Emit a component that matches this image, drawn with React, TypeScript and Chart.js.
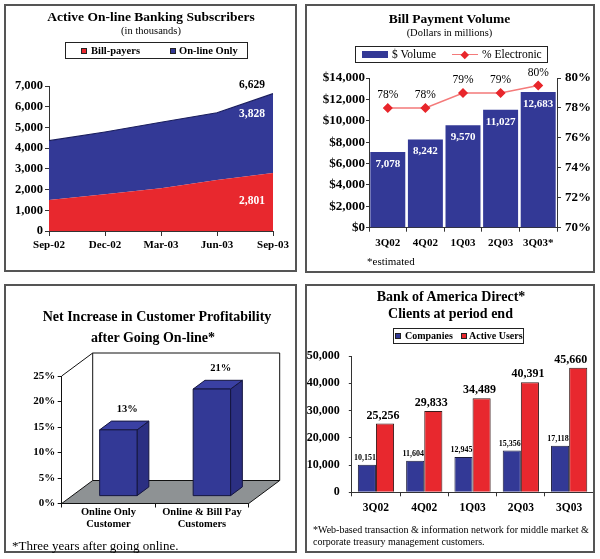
import React, { useEffect, useRef } from 'react';
import { Chart, registerables } from 'chart.js';

Chart.register(...registerables);

const SERIF = '"Liberation Serif", "Times New Roman", serif';
const RED = '#E8282E';
const BLUE = '#333996';
const AXIS = '#333';

// ---- Chart 1: Active On-line Banking Subscribers (thousands)
const subsPeriods = ['Sep-02', 'Dec-02', 'Mar-03', 'Jun-03', 'Sep-03'];
const billPayers = [1500, 1770, 2060, 2460, 2801];
const onlineOnly = [2860, 3010, 3190, 3250, 3828];

// ---- Chart 2: Bill Payment Volume
const billQuarters = ['3Q02', '4Q02', '1Q03', '2Q03', '3Q03*'];
const billVolume = [7078, 8242, 9570, 11027, 12683];
const pctElectronic = [78, 78, 79, 79, 79.5];
const pctLabels = ['78%', '78%', '79%', '79%', '80%'];

// ---- Chart 3: Net Increase in Customer Profitability
const profitCategories = [['Online Only', 'Customer'], ['Online & Bill Pay', 'Customers']];
const profitIncrease = [13, 21];

// ---- Chart 4: Bank of America Direct clients
const directQuarters = ['3Q02', '4Q02', '1Q03', '2Q03', '3Q03'];
const companies = [10151, 11604, 12945, 15356, 17118];
const activeUsers = [25256, 29833, 34489, 40391, 45660];

const fmt = (v: number) => Number(v).toLocaleString('en-US');
const font = (size: number, bold = true) => ({ family: SERIF, size, weight: bold ? 'bold' : 'normal' } as any);

function ChartCanvas({ left, top, width, height, make }: { left: number; top: number; width: number; height: number; make: () => any }) {
  const ref = useRef<HTMLCanvasElement>(null);
  useEffect(() => {
    const chart = new Chart(ref.current as HTMLCanvasElement, make());
    return () => chart.destroy();
  }, []);
  return <canvas ref={ref} width={width} height={height} style={{ position: 'absolute', left, top, width, height }} />;
}

function T({ x, y, size, bold, align = 'center', color = '#000', children, ls }: any) {
  return (
    <div
      style={{
        position: 'absolute', left: x, top: y,
        transform: align === 'center' ? 'translate(-50%,-50%)' : 'translate(0,-50%)',
        fontFamily: SERIF, fontSize: size, fontWeight: bold ? 700 : 400, color,
        whiteSpace: 'nowrap', lineHeight: 1, letterSpacing: ls,
      }}
    >
      {children}
    </div>
  );
}

function Box({ l, t, w, h, bg, b = '1px solid #222' }: any) {
  return <div style={{ position: 'absolute', left: l, top: t, width: w, height: h, background: bg, border: b, boxSizing: 'border-box' }} />;
}

const fixW = (w: number) => (s: any) => { s.width = w; };
const fixH = (h: number) => (s: any) => { s.height = h; };

// ---------- configs
function makeChart1() {
  const labels = {
    id: 'c1labels',
    afterDatasetsDraw(chart: any) {
      const { ctx, scales: { x, y } } = chart;
      const i = subsPeriods.length - 1;
      const total = billPayers[i] + onlineOnly[i];
      const px = x.getPixelForValue(i) - 21;
      ctx.save();
      ctx.font = `bold 11.5px ${SERIF}`;
      ctx.textAlign = 'center';
      ctx.textBaseline = 'middle';
      ctx.fillStyle = '#000';
      ctx.fillText(fmt(total), px, y.getPixelForValue(total) - 9);
      ctx.fillStyle = '#fff';
      ctx.fillText(fmt(onlineOnly[i]), px, y.getPixelForValue(total) + 20);
      ctx.fillText(fmt(billPayers[i]), px, y.getPixelForValue(billPayers[i]) + 28);
      ctx.restore();
    },
  };
  return {
    type: 'line',
    data: {
      labels: subsPeriods,
      datasets: [
        { label: 'Bill-payers', data: billPayers, backgroundColor: RED, borderColor: RED, borderWidth: 0, fill: 'origin', pointRadius: 0, tension: 0 },
        { label: 'On-line Only', data: onlineOnly, backgroundColor: BLUE, borderColor: '#1b1f5e', borderWidth: 1.2, fill: '-1', pointRadius: 0, tension: 0 },
      ],
    },
    options: {
      responsive: false, animation: false,
      layout: { padding: { left: 0, right: 27, top: 86, bottom: 29 } },
      plugins: { legend: { display: false }, tooltip: { enabled: false }, title: { display: false } },
      scales: {
        x: {
          offset: false,
          grid: { display: true, drawOnChartArea: false, tickLength: 5, color: AXIS },
          border: { color: AXIS, width: 1 },
          ticks: { font: font(11), color: '#000', padding: 3, maxRotation: 0, autoSkip: false },
          afterFit: fixH(20),
        },
        y: {
          stacked: true, min: 0, max: 7000,
          grid: { drawOnChartArea: false, tickLength: 4, color: AXIS },
          border: { color: AXIS, width: 1 },
          ticks: { stepSize: 1000, font: font(12.5), color: '#000', padding: 2, callback: (v: any) => fmt(v) },
          afterFit: fixW(49),
        },
      },
    },
    plugins: [labels],
  };
}

function makeChart2() {
  const labels = {
    id: 'c2labels',
    afterDatasetsDraw(chart: any) {
      const { ctx } = chart;
      ctx.save();
      ctx.textAlign = 'center';
      ctx.textBaseline = 'middle';
      const bars = chart.getDatasetMeta(1).data;
      ctx.font = `bold 11px ${SERIF}`;
      ctx.fillStyle = '#fff';
      bars.forEach((b: any, i: number) => ctx.fillText(fmt(billVolume[i]), b.x, b.y + 12));
      const pts = chart.getDatasetMeta(0).data;
      ctx.font = `11.5px ${SERIF}`;
      ctx.fillStyle = '#000';
      pts.forEach((p: any, i: number) => ctx.fillText(pctLabels[i], p.x, p.y - 13));
      ctx.restore();
    },
  };
  return {
    type: 'bar',
    data: {
      labels: billQuarters,
      datasets: [
        {
          type: 'line', label: '% Electronic', data: pctElectronic, yAxisID: 'y1', order: 0,
          borderColor: '#F47A7A', borderWidth: 1.5, tension: 0,
          pointStyle: 'rectRot', pointRadius: 4, pointBackgroundColor: '#E8262B', pointBorderColor: '#E8262B',
        },
        {
          type: 'bar', label: '$ Volume', data: billVolume, yAxisID: 'y', order: 1,
          backgroundColor: BLUE, borderWidth: 0, barPercentage: 0.93, categoryPercentage: 1,
        },
      ],
    },
    options: {
      responsive: false, animation: false,
      layout: { padding: { left: 0, right: 0, top: 78, bottom: 32.3 } },
      plugins: { legend: { display: false }, tooltip: { enabled: false } },
      scales: {
        x: {
          grid: { display: true, drawOnChartArea: false, tickLength: 4, color: AXIS },
          border: { color: AXIS, width: 1 },
          ticks: { font: font(11), color: '#000', padding: 5, maxRotation: 0, autoSkip: false },
          afterFit: fixH(20),
        },
        y: {
          position: 'left', min: 0, max: 14000,
          grid: { drawOnChartArea: false, tickLength: 3, color: AXIS },
          border: { color: AXIS, width: 1 },
          ticks: { stepSize: 2000, font: font(13), color: '#000', padding: 1, callback: (v: any) => '$' + fmt(v) },
          afterFit: fixW(69),
        },
        y1: {
          position: 'right', min: 70, max: 80,
          grid: { drawOnChartArea: false, tickLength: 4, color: AXIS },
          border: { color: AXIS, width: 1 },
          ticks: { stepSize: 2, font: font(13), color: '#000', padding: 4, callback: (v: any) => v + '%' },
          afterFit: fixW(43),
        },
      },
    },
    plugins: [labels],
  };
}

function makeChart3() {
  const D = { x: 31, y: -23 };
  const f0 = 0.32;
  const fb = 0.38;
  const box3d = {
    id: 'box3d',
    beforeDatasetsDraw(chart: any) {
      const { ctx, chartArea: { left, right, top, bottom } } = chart;
      ctx.save();
      ctx.lineWidth = 1;
      ctx.strokeStyle = '#111';
      ctx.beginPath();
      ctx.moveTo(left, bottom);
      ctx.lineTo(right, bottom);
      ctx.lineTo(right + D.x, bottom + D.y);
      ctx.lineTo(left + D.x, bottom + D.y);
      ctx.closePath();
      ctx.fillStyle = '#8E9294';
      ctx.fill();
      ctx.stroke();
      ctx.beginPath();
      ctx.moveTo(left, top);
      ctx.lineTo(left + D.x, top + D.y);
      ctx.lineTo(right + D.x, top + D.y);
      ctx.moveTo(left + D.x, top + D.y);
      ctx.lineTo(left + D.x, bottom + D.y);
      ctx.moveTo(right + D.x, top + D.y);
      ctx.lineTo(right + D.x, bottom + D.y);
      ctx.stroke();
      ctx.restore();
    },
    afterDatasetsDraw(chart: any) {
      const { ctx } = chart;
      const fx = D.x * f0, fy = D.y * f0;
      const bx = D.x * fb, by = D.y * fb;
      ctx.save();
      ctx.lineWidth = 1;
      ctx.strokeStyle = '#15163f';
      ctx.lineJoin = 'round';
      chart.getDatasetMeta(0).data.forEach((el: any, i: number) => {
        const { x, y, base, width } = el.getProps(['x', 'y', 'base', 'width'], true);
        const x0 = x - width / 2 + fx, x1 = x0 + width;
        const yT = y + fy, yB = base + fy;
        ctx.beginPath();
        ctx.moveTo(x1, yT); ctx.lineTo(x1 + bx, yT + by); ctx.lineTo(x1 + bx, yB + by); ctx.lineTo(x1, yB); ctx.closePath();
        ctx.fillStyle = '#2B2F82'; ctx.fill(); ctx.stroke();
        ctx.beginPath();
        ctx.moveTo(x0, yT); ctx.lineTo(x0 + bx, yT + by); ctx.lineTo(x1 + bx, yT + by); ctx.lineTo(x1, yT); ctx.closePath();
        ctx.fillStyle = '#3A40A3'; ctx.fill(); ctx.stroke();
        ctx.beginPath();
        ctx.rect(x0, yT, width, yB - yT);
        ctx.fillStyle = BLUE; ctx.fill(); ctx.stroke();
        ctx.font = `bold 10.5px ${SERIF}`;
        ctx.fillStyle = '#000';
        ctx.textAlign = 'center';
        ctx.textBaseline = 'middle';
        ctx.fillText(profitIncrease[i] + '%', x0 + width / 2 + bx / 2 + 3, yT + by - 12);
      });
      ctx.restore();
    },
  };
  return {
    type: 'bar',
    data: {
      labels: profitCategories,
      datasets: [{ data: profitIncrease, backgroundColor: 'rgba(0,0,0,0)', borderWidth: 0, barPercentage: 0.4, categoryPercentage: 1 }],
    },
    options: {
      responsive: false, animation: false,
      layout: { padding: { left: 0, right: 51.3, top: 96, bottom: 25.5 } },
      plugins: { legend: { display: false }, tooltip: { enabled: false } },
      scales: {
        x: {
          grid: { display: true, drawOnChartArea: false, tickLength: 4, color: '#111' },
          border: { color: '#111', width: 1 },
          ticks: { font: font(10.5), color: '#000', padding: -2, maxRotation: 0, autoSkip: false },
          afterFit: fixH(30),
        },
        y: {
          min: 0, max: 25,
          grid: { drawOnChartArea: false, tickLength: 4, color: '#111' },
          border: { color: '#111', width: 1 },
          ticks: { stepSize: 5, font: font(11), color: '#000', padding: 2.5, callback: (v: any) => v + '%' },
          afterFit: fixW(61.7),
        },
      },
    },
    plugins: [box3d],
  };
}

function makeChart4() {
  const labels = {
    id: 'c4labels',
    afterDatasetsDraw(chart: any) {
      const { ctx, chartArea } = chart;
      ctx.save();
      ctx.textAlign = 'center';
      ctx.textBaseline = 'middle';
      ctx.fillStyle = '#000';
      ctx.font = `bold 8px ${SERIF}`;
      chart.getDatasetMeta(0).data.forEach((b: any, i: number) => ctx.fillText(fmt(companies[i]), b.x - 2, b.y - 7));
      ctx.font = `bold 12px ${SERIF}`;
      chart.getDatasetMeta(1).data.forEach((b: any, i: number) => {
        const t = fmt(activeUsers[i]);
        const half = ctx.measureText(t).width / 2;
        const cx = Math.min(b.x - 2, chartArea.right - half - 6);
        ctx.fillText(t, cx, b.y - 8);
      });
      ctx.restore();
    },
  };
  return {
    type: 'bar',
    data: {
      labels: directQuarters,
      datasets: [
        { label: 'Companies', data: companies, backgroundColor: BLUE, borderColor: '#1a1a3a', borderWidth: 1, barPercentage: 1, categoryPercentage: 0.75 },
        { label: 'Active Users', data: activeUsers, backgroundColor: RED, borderColor: '#3a1a1a', borderWidth: 1, barPercentage: 1, categoryPercentage: 0.75 },
      ],
    },
    options: {
      responsive: false, animation: false,
      layout: { padding: { left: 0, right: 6.7, top: 76, bottom: 46.7 } },
      plugins: { legend: { display: false }, tooltip: { enabled: false } },
      scales: {
        x: {
          grid: { display: true, drawOnChartArea: false, tickLength: 4, color: AXIS },
          border: { color: AXIS, width: 1 },
          ticks: { font: font(11.5), color: '#000', padding: 5, maxRotation: 0, autoSkip: false },
          afterFit: fixH(20),
        },
        y: {
          min: 0, max: 50000,
          grid: { drawOnChartArea: false, tickLength: 3, color: AXIS },
          border: { color: AXIS, width: 1 },
          ticks: { stepSize: 10000, font: font(12), color: '#000', padding: 9, callback: (v: any) => fmt(v) },
          afterFit: fixW(51.8),
        },
      },
    },
    plugins: [labels],
  };
}

export default function App() {
  return (
    <div style={{ position: 'absolute', left: 0, top: 0, width: 600, height: 559, background: '#fff', overflow: 'hidden' }}>
      <ChartCanvas left={0} top={0} width={300} height={280} make={makeChart1} />
      <ChartCanvas left={300} top={0} width={300} height={280} make={makeChart2} />
      <ChartCanvas left={0} top={280} width={300} height={279} make={makeChart3} />
      <ChartCanvas left={300} top={280} width={300} height={279} make={makeChart4} />

      {/* panel frames */}
      <Box l={4} t={4} w={293} h={268} b="2px solid #555" />
      <Box l={305} t={4} w={290} h={269} b="2px solid #555" />
      <Box l={4} t={284} w={293} h={269} b="2px solid #555" />
      <Box l={305} t={284} w={290} h={269} b="2px solid #555" />

      {/* chart 1 texts */}
      <T x={151} y={17} size={13.5} bold>Active On-line Banking Subscribers</T>
      <T x={151} y={31} size={10.5}>(in thousands)</T>
      <Box l={65} t={42} w={183} h={17} />
      <Box l={81} t={48} w={6} h={6} bg={RED} b="0.5px solid #222" />
      <T x={91} y={51} size={10.5} bold align="left">Bill-payers</T>
      <Box l={170} t={48} w={6} h={6} bg={BLUE} b="0.5px solid #222" />
      <T x={179} y={51} size={10.5} bold align="left">On-line Only</T>

      {/* chart 2 texts */}
      <T x={449.5} y={18.7} size={13.5} bold>Bill Payment Volume</T>
      <T x={449.5} y={32.7} size={10.5}>(Dollars in millions)</T>
      <Box l={355} t={46} w={193} h={17} />
      <Box l={362} t={51} w={26} h={7} bg={BLUE} b="none" />
      <T x={392} y={54.5} size={11.5} align="left">$ Volume</T>
      <Box l={452} t={53.8} w={26} h={1.5} bg="#F47A7A" b="none" />
      <div style={{ position: 'absolute', left: 462, top: 51.5, width: 5.5, height: 5.5, background: '#E8262B', transform: 'rotate(45deg)' }} />
      <T x={482} y={54.5} size={11.5} align="left">% Electronic</T>
      <T x={367} y={261} size={11} align="left">*estimated</T>

      {/* chart 3 texts */}
      <T x={157} y={316.7} size={14} bold>Net Increase in Customer Profitability</T>
      <T x={153} y={338.3} size={14} bold>after Going On-line*</T>
      <T x={12} y={545} size={13} align="left">*Three years after going online.</T>

      {/* chart 4 texts */}
      <T x={451} y={296.7} size={14} bold>Bank of America Direct*</T>
      <T x={450.5} y={314.3} size={14} bold>Clients at period end</T>
      <Box l={393} t={328} w={131} h={16} />
      <Box l={395} t={333} w={6} h={6} bg={BLUE} b="0.5px solid #222" />
      <T x={405} y={336} size={10} bold align="left">Companies</T>
      <Box l={460.5} t={333} w={6} h={6} bg={RED} b="0.5px solid #222" />
      <T x={469} y={336} size={10} bold align="left">Active Users</T>
      <T x={313} y={530} size={10} align="left">*Web-based transaction &amp; information network for middle market &amp;</T>
      <T x={313} y={542} size={10} align="left">corporate treasury management customers.</T>
    </div>
  );
}
